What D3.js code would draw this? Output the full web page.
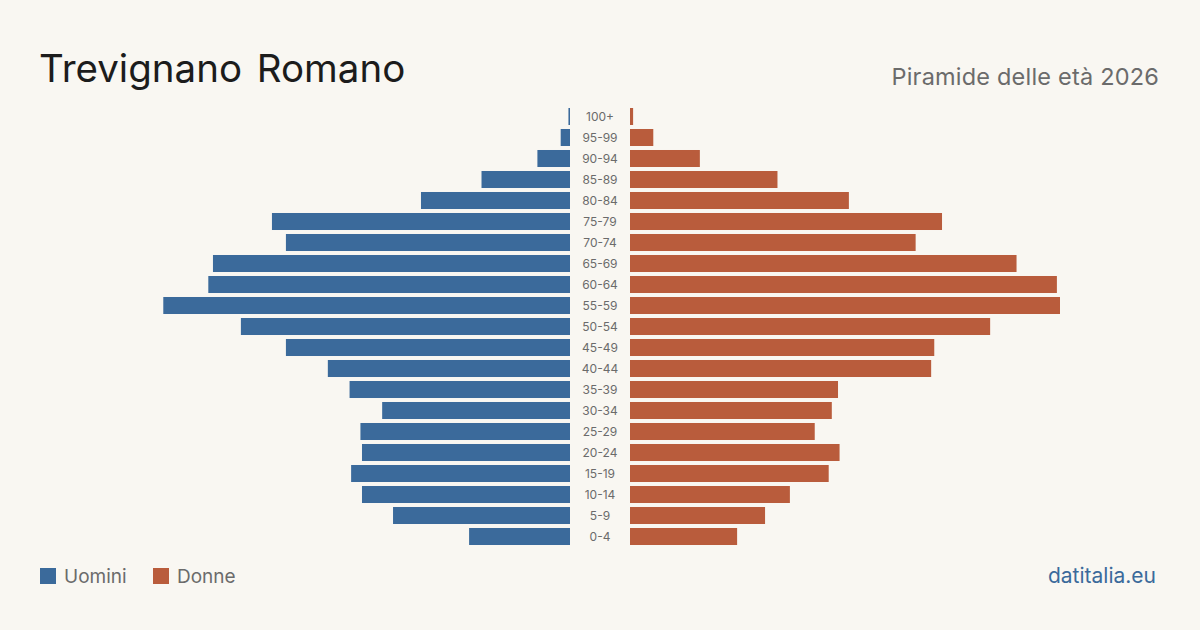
<!DOCTYPE html>
<html>
<head>
<meta charset="utf-8">
<script src="https://cdn.jsdelivr.net/npm/d3@7"></script>
<style>
  html, body { margin: 0; padding: 0; background: #f9f7f2; }
  svg { display: block; font-family: Inter, "Noto Sans", sans-serif; }
</style>
</head>
<body>
<div id="chart"></div>
<script>
// fasce d'età, dall'alto verso il basso
const ageGroups = ["100+", "95-99", "90-94", "85-89", "80-84", "75-79", "70-74", "65-69", "60-64", "55-59",
    "50-54", "45-49", "40-44", "35-39", "30-34", "25-29", "20-24", "15-19", "10-14", "5-9", "0-4"];
const men = [1, 6, 21, 57, 96, 192, 183, 230, 233, 262, 212, 183, 156, 142, 121, 135, 134, 141, 134, 114, 65];
const women = [2, 15, 45, 95, 141, 201, 184, 249, 275, 277, 232, 196, 194, 134, 130, 119, 135, 128, 103, 87, 69];

const width = 1200, height = 630;
const blue = "#3b6a9b", red = "#b95c3c";

const svg = d3.select("#chart").append("svg")
    .attr("width", width)
    .attr("height", height);

svg.append("rect").attr("width", width).attr("height", height).attr("fill", "#f9f7f2");

const maxVal = d3.max(men.concat(women));

const y = d3.scaleBand()
    .domain(ageGroups)
    .range([106, 547])
    .paddingInner(0.19)
    .paddingOuter(0.095);

const xLeft = d3.scaleLinear().domain([0, maxVal]).range([570, 140]);
const xRight = d3.scaleLinear().domain([0, maxVal]).range([630, 1060]);

svg.append("g").selectAll("rect")
    .data(men)
    .join("rect")
    .attr("x", d => xLeft(d))
    .attr("y", (d, i) => y(ageGroups[i]))
    .attr("width", d => xLeft(0) - xLeft(d))
    .attr("height", y.bandwidth())
    .attr("fill", blue);

svg.append("g").selectAll("rect")
    .data(women)
    .join("rect")
    .attr("x", xRight(0))
    .attr("y", (d, i) => y(ageGroups[i]))
    .attr("width", d => xRight(d) - xRight(0))
    .attr("height", y.bandwidth())
    .attr("fill", red);

// etichette centrali
svg.append("g").selectAll("text")
    .data(ageGroups)
    .join("text")
    .attr("x", 600)
    .attr("y", d => y(d) + y.bandwidth() / 2)
    .attr("dy", "0.35em")
    .attr("text-anchor", "middle")
    .attr("font-size", 12)
    .attr("fill", "#6b6b6b")
    .text(d => d);

// titolo
svg.append("text")
    .attr("x", 39)
    .attr("y", 82)
    .attr("font-size", 38.5)
    .attr("fill", "#1c1c1c")
    .style("word-spacing", "4px")
    .text("Trevignano Romano");

svg.append("text")
    .attr("x", 1159)
    .attr("y", 85)
    .attr("text-anchor", "end")
    .attr("font-size", 23.5)
    .attr("fill", "#6b6b6b")
    .style("letter-spacing", "0.2px")
    .text("Piramide delle età 2026");

// legenda
const legendItems = [{label: "Uomini", color: blue, x: 40}, {label: "Donne", color: red, x: 153}];
const legend = svg.append("g");
legendItems.forEach(item => {
    legend.append("rect")
        .attr("x", item.x)
        .attr("y", 568)
        .attr("width", 16)
        .attr("height", 16)
        .attr("fill", item.color);
    legend.append("text")
        .attr("x", item.x + 24)
        .attr("y", 583)
        .attr("font-size", 19)
        .attr("fill", "#6b6b6b")
        .text(item.label);
});

svg.append("text")
    .attr("x", 1156)
    .attr("y", 583)
    .attr("text-anchor", "end")
    .attr("font-size", 21)
    .attr("fill", blue)
    .text("datitalia.eu");
</script>
</body>
</html>
